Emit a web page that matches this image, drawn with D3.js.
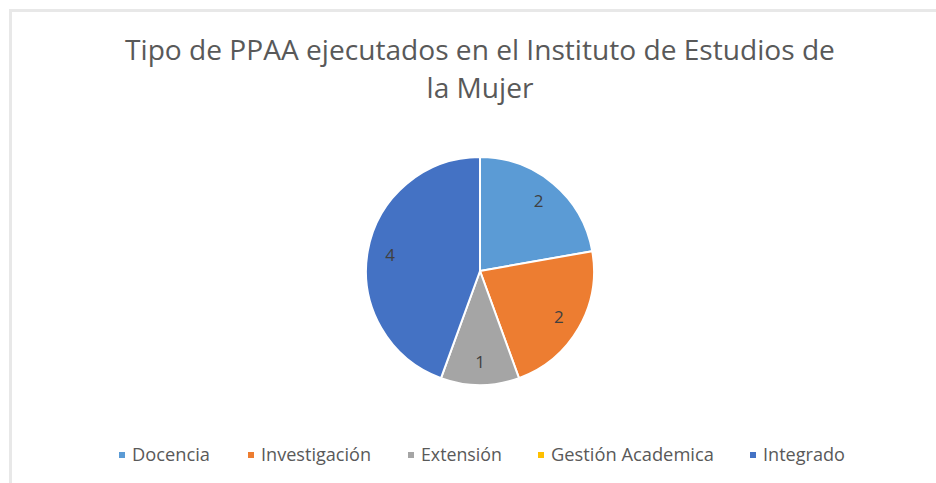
<!DOCTYPE html>
<html>
<head>
<meta charset="utf-8">
<script src="https://cdn.jsdelivr.net/npm/d3@7"></script>
<style>
  body { margin: 0; background: #fff; }
  text { font-family: "Open Sans", sans-serif; fill: #595959; }
</style>
</head>
<body>
<svg id="chart"></svg>
<script>
// data
var categories = ["Docencia", "Investigación", "Extensión", "Gestión Academica", "Integrado"];
var values = [2, 2, 1, 0, 4];
var colors = ["#5B9BD5", "#ED7D31", "#A5A5A5", "#FFC000", "#4472C4"];
var titleLines = ["Tipo de PPAA ejecutados en el Instituto de Estudios de", "la Mujer"];

var width = 936, height = 483;
var cx = 480, cy = 271, r = 114;

var svg = d3.select("#chart")
    .attr("width", width)
    .attr("height", height);

// faint chart border
svg.append("rect")
    .attr("x", 10.5).attr("y", 10.5)
    .attr("width", width).attr("height", height)
    .attr("fill", "none")
    .attr("stroke", "#e8e8e8")
    .attr("stroke-width", 3);

// title
var title = svg.append("text")
    .attr("text-anchor", "middle")
    .attr("font-size", "28px");
title.selectAll("tspan")
    .data(titleLines)
    .enter().append("tspan")
    .attr("x", cx)
    .attr("y", function(d, i) { return 60 + i * 38; })
    .text(function(d) { return d; });
// squeeze the long line to the width seen in the picture
var first = title.select("tspan").node();
var w = first.getComputedTextLength();
if (w > 0) title.attr("font-size", (28 * 710 / w) + "px");

// pie
var pie = d3.pie().sort(null).startAngle(0).endAngle(2 * Math.PI);
var arc = d3.arc().innerRadius(0).outerRadius(r);
var labelArc = d3.arc().innerRadius(r * 0.8).outerRadius(r * 0.8);
var arcs = pie(values);

var g = svg.append("g").attr("transform", "translate(" + cx + "," + cy + ")");
g.selectAll("path")
    .data(arcs.filter(function(d) { return d.value > 0; }))
    .enter().append("path")
    .attr("d", arc)
    .attr("fill", function(d) { return colors[d.index]; })
    .attr("stroke", "#fff")
    .attr("stroke-width", 2);

g.selectAll("text.lbl")
    .data(arcs.filter(function(d) { return d.value > 0; }))
    .enter().append("text")
    .attr("class", "lbl")
    .attr("transform", function(d) { return "translate(" + labelArc.centroid(d) + ")"; })
    .attr("text-anchor", "middle")
    .attr("dy", "0.35em")
    .attr("font-size", "17px")
    .style("fill", "#404040")
    .text(function(d) { return d.value; });

// legend
var legendX = [122, 251, 411, 541, 753];
var legendW = [78, 110, 81, 163, 82];
var legend = svg.append("g").attr("transform", "translate(0,455)");
var item = legend.selectAll("g")
    .data(categories)
    .enter().append("g")
    .attr("transform", function(d, i) { return "translate(" + legendX[i] + ",0)"; });
item.append("rect")
    .attr("x", -3).attr("y", -3)
    .attr("width", 6).attr("height", 6)
    .attr("fill", function(d, i) { return colors[i]; });
item.append("text")
    .attr("x", 10)
    .attr("dy", "0.35em")
    .attr("font-size", "16px")
    .text(function(d) { return d; })
    .each(function(d, i) {
      var tw = this.getComputedTextLength();
      if (tw > 0) d3.select(this).attr("font-size", (16 * legendW[i] / tw) + "px");
    });
</script>
</body>
</html>
